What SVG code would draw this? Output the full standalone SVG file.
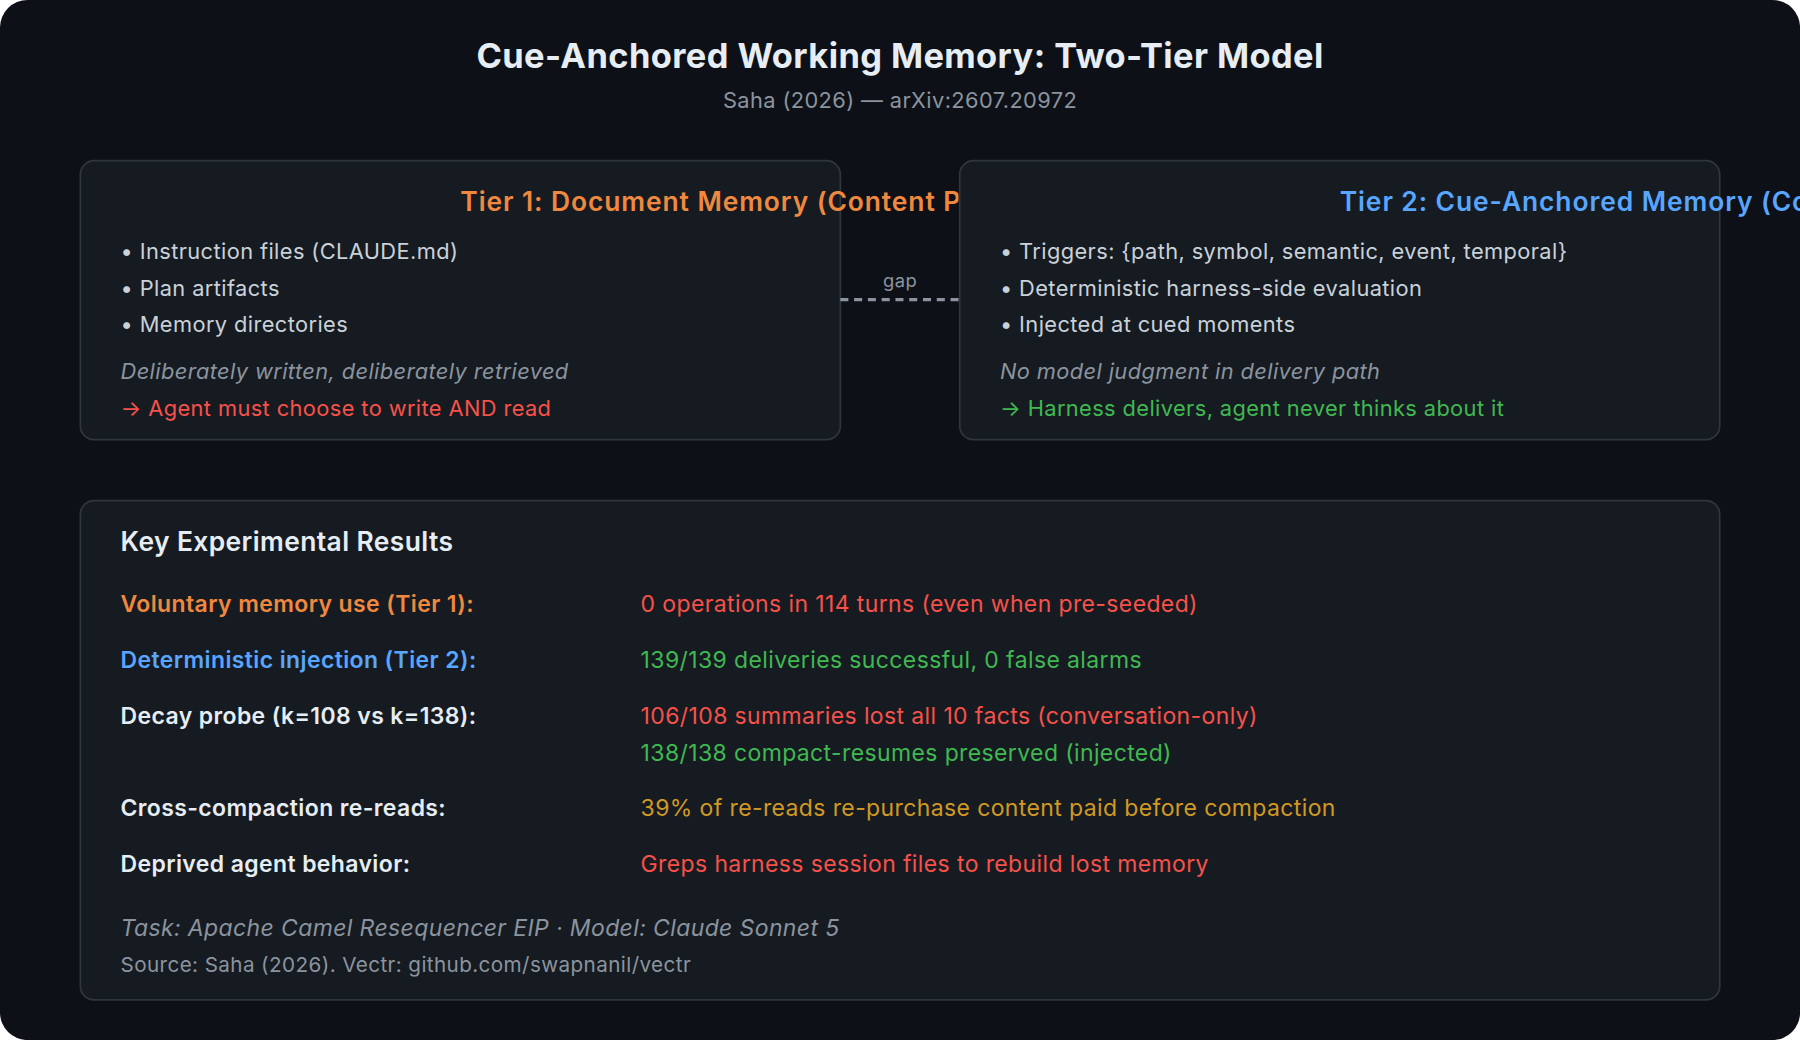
<svg xmlns="http://www.w3.org/2000/svg" width="1800" height="1040" viewBox="0 0 1800 1040">
<style>
text{font-family:Inter,"Noto Sans","Liberation Sans",sans-serif;letter-spacing:0.35px}
.panel{fill:#161b22;stroke:#30363d;stroke-width:1.5}
.b{fill:#c9d1d9;font-size:19px}
.it{fill:#8b949e;font-size:19px;font-style:italic}
.lab{fill:#e6edf3;font-size:20px;font-weight:600}
.val{font-size:20px}
.red{fill:#f85149}.grn{fill:#3fb950}.org{fill:#f0883e}.blu{fill:#58a6ff}.amb{fill:#d29922}
</style>
<defs><clipPath id="c1"><rect x="70" y="140" width="765" height="243"/></clipPath></defs>
<rect width="1800" height="1040" fill="#ffffff"/>
<g transform="scale(1.148)">
<rect x="0" y="0" width="1568" height="906" rx="24" fill="#0d1117"/>
<text x="784" y="59" text-anchor="middle" font-size="30" font-weight="700" fill="#e6edf3">Cue-Anchored Working Memory: Two-Tier Model</text>
<text x="784" y="94" text-anchor="middle" font-size="19" fill="#8b949e">Saha (2026) — arXiv:2607.20972</text>
<g id="tier1">
<rect class="panel" x="70" y="140" width="662" height="243" rx="12"/>
<text x="401" y="184" font-size="23" font-weight="600" class="org" clip-path="url(#c1)" style="letter-spacing:0.8px">Tier 1: Document Memory (Content Plane)</text>
<text class="b" x="105" y="226">• Instruction files (CLAUDE.md)</text>
<text class="b" x="105" y="258">• Plan artifacts</text>
<text class="b" x="105" y="289">• Memory directories</text>
<text class="it" x="105" y="330">Deliberately written, deliberately retrieved</text>
<text class="b red" x="105" y="362">→ Agent must choose to write AND read</text>
</g>
<g id="tier2">
<rect class="panel" x="836" y="140" width="662" height="243" rx="12"/>
<text x="1167" y="184" font-size="23" font-weight="600" class="blu" style="letter-spacing:0.8px">Tier 2: Cue-Anchored Memory (Control Plane)</text>
<text class="b" x="871" y="226">• Triggers: {path, symbol, semantic, event, temporal}</text>
<text class="b" x="871" y="258">• Deterministic harness-side evaluation</text>
<text class="b" x="871" y="289">• Injected at cued moments</text>
<text class="it" x="871" y="330">No model judgment in delivery path</text>
<text class="b grn" x="871" y="362">→ Harness delivers, agent never thinks about it</text>
</g>
<g id="connectors">
<line x1="732" y1="261" x2="836" y2="261" stroke="#8b949e" stroke-width="3" stroke-dasharray="7,5"/>
<text x="784" y="250" text-anchor="middle" font-size="16" fill="#8b949e">gap</text>
</g>
<g id="results">
<rect class="panel" x="70" y="436" width="1428" height="435" rx="12"/>
<text x="105" y="480" font-size="23" font-weight="600" fill="#e6edf3">Key Experimental Results</text>
<text class="lab org" x="105" y="533">Voluntary memory use (Tier 1):</text>
<text class="val red" x="558" y="533">0 operations in 114 turns (even when pre-seeded)</text>
<text class="lab blu" x="105" y="582">Deterministic injection (Tier 2):</text>
<text class="val grn" x="558" y="582">139/139 deliveries successful, 0 false alarms</text>
<text class="lab" x="105" y="631">Decay probe (k=108 vs k=138):</text>
<text class="val red" x="558" y="631">106/108 summaries lost all 10 facts (conversation-only)</text>
<text class="val grn" x="558" y="663">138/138 compact-resumes preserved (injected)</text>
<text class="lab" x="105" y="711">Cross-compaction re-reads:</text>
<text class="val amb" x="558" y="711">39% of re-reads re-purchase content paid before compaction</text>
<text class="lab" x="105" y="760">Deprived agent behavior:</text>
<text class="val red" x="558" y="760">Greps harness session files to rebuild lost memory</text>
<text x="105" y="815" font-size="20" font-style="italic" fill="#8b949e">Task: Apache Camel Resequencer EIP · Model: Claude Sonnet 5</text>
<text x="105" y="847" font-size="18" fill="#8b949e">Source: Saha (2026). Vectr: github.com/swapnanil/vectr</text>
</g>
</g>
</svg>
